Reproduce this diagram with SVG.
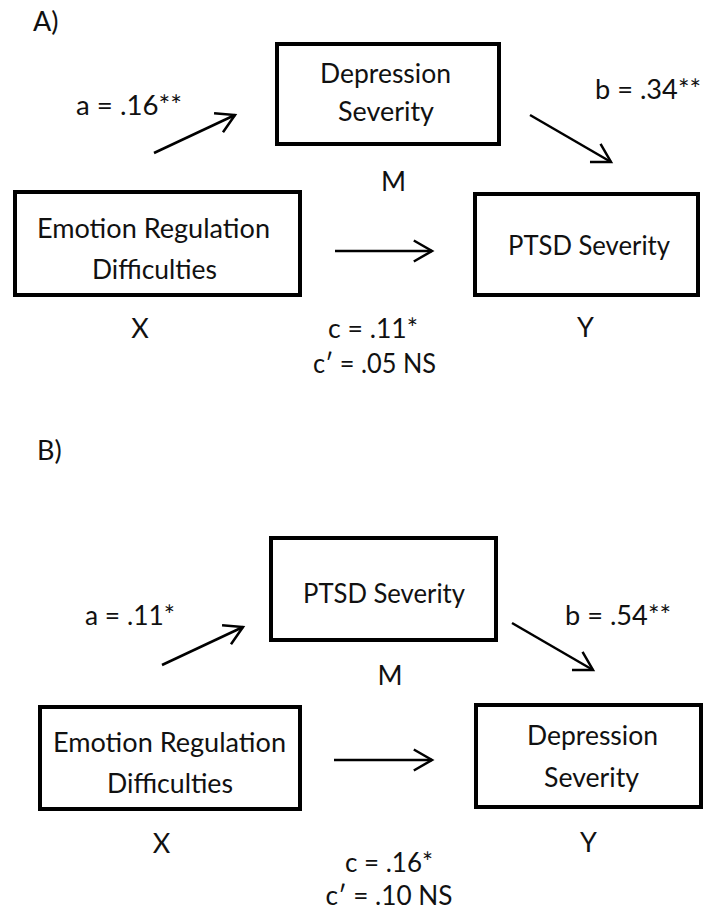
<svg xmlns="http://www.w3.org/2000/svg" width="704" height="912" viewBox="0 0 704 912">
<style>
.box{fill:#fff;stroke:#000;stroke-width:4}
.t{font-family:Lato,"Liberation Sans",sans-serif;font-size:27px;fill:#111}
.m{text-anchor:middle}
.arr{stroke:#000;stroke-width:2.5;fill:none;marker-end:url(#ah)}
</style>
<defs>
<marker id="ah" markerUnits="userSpaceOnUse" orient="auto" viewBox="-22 -14 26 28" refX="0" refY="0" markerWidth="26" markerHeight="28" overflow="visible">
<path d="M-18.2,-10.5 L0,0 L-18.2,10.5" fill="none" stroke="#000" stroke-width="2.5" stroke-linejoin="miter"/>
</marker>
</defs>
<rect width="704" height="912" fill="#fff"/>

<g id="panelA-labels">
<text class="t" x="33" y="31">A)</text>
<text class="t" x="76" y="115" textLength="106" lengthAdjust="spacingAndGlyphs">a = .16**</text>
<text class="t" x="595" y="99" textLength="106" lengthAdjust="spacingAndGlyphs">b = .34**</text>
<text class="t m" x="393.5" y="191">M</text>
<text class="t m" x="140" y="338">X</text>
<text class="t m" x="585.5" y="337">Y</text>
<text class="t m" x="373" y="338" textLength="90" lengthAdjust="spacingAndGlyphs">c = .11*</text>
<text class="t m" x="374.5" y="373" textLength="123" lengthAdjust="spacingAndGlyphs">c′ = .05 NS</text>
</g>

<g id="A-M">
<rect class="box" x="277" y="44" width="222" height="100"/>
<text class="t m" x="385.5" y="83" textLength="131" lengthAdjust="spacingAndGlyphs">Depression</text>
<text class="t m" x="386" y="121" textLength="96" lengthAdjust="spacingAndGlyphs">Severity</text>
</g>
<g id="A-X">
<rect class="box" x="15" y="192" width="285" height="103"/>
<text class="t m" x="153.5" y="238" textLength="233" lengthAdjust="spacingAndGlyphs">Emotion Regulation</text>
<text class="t m" x="154.5" y="279" textLength="125" lengthAdjust="spacingAndGlyphs">Difficulties</text>
</g>
<g id="A-Y">
<rect class="box" x="475" y="194" width="223" height="101"/>
<text class="t m" x="589" y="255" textLength="162" lengthAdjust="spacingAndGlyphs">PTSD Severity</text>
</g>

<g id="panelB-labels">
<text class="t" x="37" y="460">B)</text>
<text class="t" x="85" y="625" textLength="90" lengthAdjust="spacingAndGlyphs">a = .11*</text>
<text class="t" x="565" y="625" textLength="106" lengthAdjust="spacingAndGlyphs">b = .54**</text>
<text class="t m" x="390" y="685">M</text>
<text class="t m" x="161.5" y="853">X</text>
<text class="t m" x="588.5" y="852">Y</text>
<text class="t m" x="389" y="872" textLength="88" lengthAdjust="spacingAndGlyphs">c = .16*</text>
<text class="t m" x="389" y="905" textLength="127" lengthAdjust="spacingAndGlyphs">c′ = .10 NS</text>
</g>

<g id="B-M">
<rect class="box" x="271" y="538" width="225" height="102"/>
<text class="t m" x="384" y="603" textLength="162" lengthAdjust="spacingAndGlyphs">PTSD Severity</text>
</g>
<g id="B-X">
<rect class="box" x="40" y="707" width="260" height="102"/>
<text class="t m" x="169.5" y="752" textLength="233" lengthAdjust="spacingAndGlyphs">Emotion Regulation</text>
<text class="t m" x="170" y="793" textLength="126" lengthAdjust="spacingAndGlyphs">Difficulties</text>
</g>
<g id="B-Y">
<rect class="box" x="476" y="705" width="225" height="102"/>
<text class="t m" x="592.5" y="745" textLength="131" lengthAdjust="spacingAndGlyphs">Depression</text>
<text class="t m" x="591.5" y="787" textLength="95" lengthAdjust="spacingAndGlyphs">Severity</text>
</g>

<g id="connectors">
<line class="arr" x1="154" y1="153" x2="235" y2="115"/>
<line class="arr" x1="530" y1="115" x2="611" y2="162"/>
<line class="arr" x1="335" y1="251" x2="432" y2="251"/>
<line class="arr" x1="162" y1="665" x2="243" y2="627"/>
<line class="arr" x1="512" y1="623" x2="593" y2="670"/>
<line class="arr" x1="334" y1="760" x2="432" y2="760"/>
</g>
</svg>
